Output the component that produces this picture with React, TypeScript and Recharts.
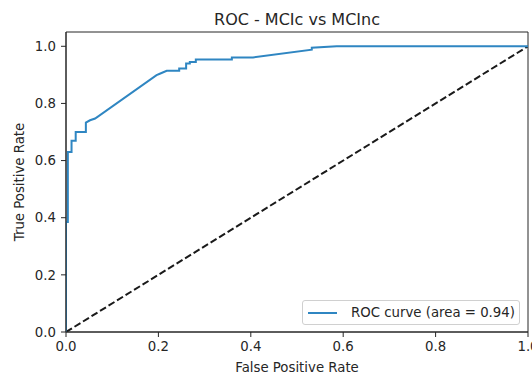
import React from "react";
import {
  LineChart,
  Line,
  XAxis,
  YAxis,
  Legend,
  ReferenceArea,
} from "recharts";

const fpr = [0, 0, 0.004, 0.004, 0.012, 0.012, 0.021, 0.021, 0.043, 0.043, 0.052, 0.063, 0.196, 0.203, 0.218, 0.245, 0.245, 0.26, 0.26, 0.268, 0.268, 0.281, 0.281, 0.359, 0.359, 0.405, 0.532, 0.532, 0.586, 1.0];
const tpr = [0, 0.385, 0.385, 0.63, 0.63, 0.669, 0.669, 0.7, 0.7, 0.733, 0.741, 0.747, 0.899, 0.904, 0.914, 0.914, 0.922, 0.922, 0.94, 0.94, 0.945, 0.945, 0.954, 0.954, 0.961, 0.961, 0.988, 0.995, 1.0, 1.0];
const chanceX = [0, 1];
const chanceY = [0, 1];
const xTicks = [0, 0.2, 0.4, 0.6, 0.8, 1.0];
const yTicks = [0, 0.2, 0.4, 0.6, 0.8, 1.0];
const title = "ROC - MCIc vs MCInc";
const legendLabel = "ROC curve (area = 0.94)";

const rocData = fpr.map((x, i) => ({ x, y: tpr[i] }));
const chanceData = chanceX.map((x, i) => ({ x, y: chanceY[i] }));

const FONT = "'DejaVu Sans', sans-serif";
const AX = "#262626";

const LegendBox = () => (
  <div
    style={{
      position: "absolute",
      left: 302,
      top: 300,
      width: 218,
      height: 25,
      border: "1px solid #d0d0d0",
      borderRadius: 3,
      background: "rgba(255,255,255,0.8)",
      boxSizing: "border-box",
      fontFamily: FONT,
      fontSize: 13.3,
      color: AX,
      display: "flex",
      alignItems: "center",
    }}
  >
    <svg width={44} height={10} style={{ marginLeft: 4 }}>
      <line x1={1} y1={5} x2={30} y2={5} stroke="#2f86c2" strokeWidth={2} />
    </svg>
    <span style={{ whiteSpace: "nowrap" }}>{legendLabel}</span>
  </div>
);

export default function App() {
  return (
    <div style={{ position: "absolute", left: 0, top: 0, width: 532, height: 377, background: "#fff" }}>
      <LineChart
        width={532}
        height={377}
        margin={{ top: 32, right: 4, bottom: 0, left: 0 }}
        style={{ fontFamily: FONT }}
      >
        <text x={297} y={25} textAnchor="middle" fontSize={16} fill={AX} fontFamily={FONT}>
          {title}
        </text>
        <XAxis
          type="number"
          dataKey="x"
          domain={[0, 1]}
          ticks={xTicks}
          tickFormatter={(v: number) => v.toFixed(1)}
          allowDataOverflow
          height={45}
          tickSize={5}
          tickMargin={5}
          axisLine={{ stroke: AX }}
          tickLine={{ stroke: AX }}
          tick={{ fill: AX, fontSize: 13.3, fontFamily: FONT }}
          interval={0}
          label={{
            content: (props: any) => {
              const vb = props.viewBox;
              return (
                <text
                  x={vb.x + vb.width / 2}
                  y={vb.y + 40}
                  textAnchor="middle"
                  fontSize={13.3}
                  fill={AX}
                  fontFamily={FONT}
                >
                  False Positive Rate
                </text>
              );
            },
          }}
        />
        <YAxis
          type="number"
          domain={[0, 1.05]}
          ticks={yTicks}
          tickFormatter={(v: number) => v.toFixed(1)}
          allowDataOverflow
          width={66}
          tickSize={5}
          tickMargin={5}
          axisLine={{ stroke: AX }}
          tickLine={{ stroke: AX }}
          tick={{ fill: AX, fontSize: 13.3, fontFamily: FONT }}
          interval={0}
          label={{
            content: (props: any) => {
              const vb = props.viewBox;
              const cx = vb.x + 19;
              const cy = vb.y + vb.height / 2;
              return (
                <text
                  x={cx}
                  y={cy}
                  transform={`rotate(-90, ${cx}, ${cy})`}
                  textAnchor="middle"
                  dominantBaseline="central"
                  fontSize={13.3}
                  fill={AX}
                  fontFamily={FONT}
                >
                  True Positive Rate
                </text>
              );
            },
          }}
        />
        <Line
          data={chanceData}
          dataKey="y"
          type="linear"
          stroke="#1a1a1a"
          strokeWidth={2}
          strokeDasharray="7 3"
          dot={false}
          activeDot={false}
          legendType="none"
          isAnimationActive={false}
        />
        <Line
          data={rocData}
          dataKey="y"
          type="linear"
          stroke="#2f86c2"
          strokeWidth={2}
          dot={false}
          activeDot={false}
          isAnimationActive={false}
        />
        <ReferenceArea
          x1={0}
          x2={1}
          y1={0}
          y2={1.05}
          fill="none"
          stroke={AX}
          strokeWidth={1}
          ifOverflow="visible"
        />
        <Legend content={() => <LegendBox />} wrapperStyle={{ position: "absolute", left: 0, top: 0, width: 0, height: 0 }} />
      </LineChart>
    </div>
  );
}
